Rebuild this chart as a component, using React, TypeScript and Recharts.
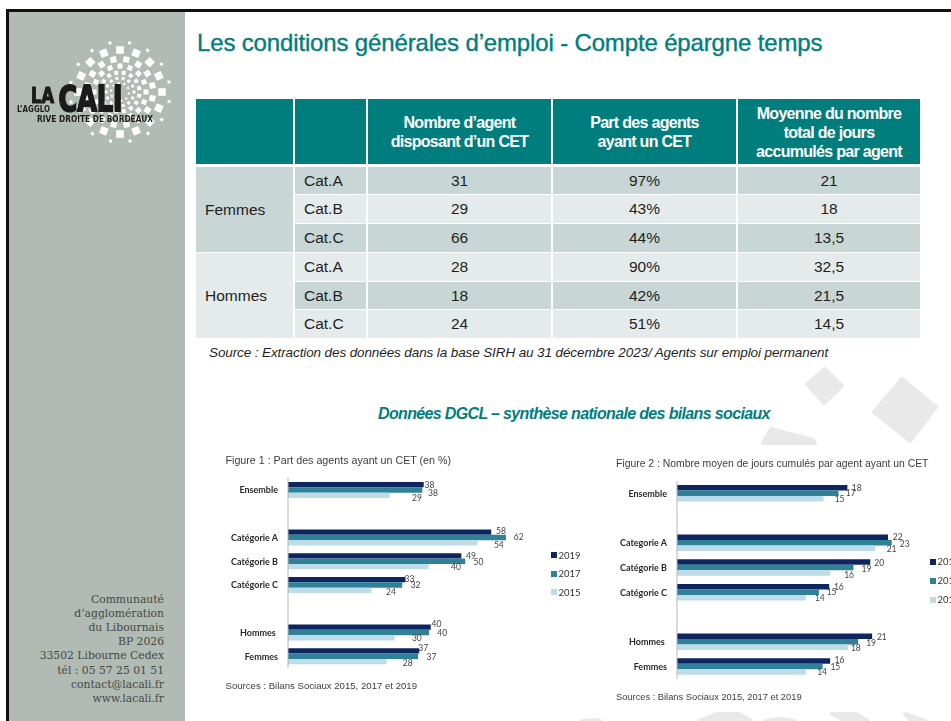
import React from 'react';
import { BarChart, Bar, XAxis, YAxis, Legend, LabelList } from 'recharts';

const TEAL = '#007D7D';
const SERIES_COLORS = { y2019: '#0E2660', y2017: '#2F8198', y2015: '#BEDCE7' };
const LEGEND_NAMES = { y2019: '2019', y2017: '2017', y2015: '2015' };

// Table
const tableHeaders = ['Nombre d’agent\ndisposant d’un CET', 'Part des agents\nayant un CET', 'Moyenne du nombre\ntotal de jours\naccumulés par agent'];
const tableGroups = ['Femmes', 'Hommes'];
const tableCats = ['Cat.A', 'Cat.B', 'Cat.C', 'Cat.A', 'Cat.B', 'Cat.C'];
const tableAgents = ['31', '29', '66', '28', '18', '24'];
const tableShare = ['97%', '43%', '44%', '90%', '42%', '51%'];
const tableDays = ['21', '18', '13,5', '32,5', '21,5', '14,5'];

const sidebarLines = ['Communauté', 'd’agglomération', 'du Libournais', 'BP 2026', '33502 Libourne Cedex', 'tél : 05 57 25 01 51', 'contact@lacali.fr', 'www.lacali.fr'];

const fig1Categories = ['Ensemble', ' ', 'Catégorie A', 'Catégorie B', 'Catégorie C', '  ', 'Hommes\u00a0', 'Femmes'];
const fig1Bars2019 = [38.6, null, 57.8, 49.3, 33.4, null, 40.6, 37.3];
const fig1Bars2017 = [38.2, null, 62, 50.4, 32.5, null, 40.1, 37];
const fig1Bars2015 = [28.9, null, 53.9, 40, 23.7, null, 30.3, 28];
const fig1Labels2019 = [38, 58, 49, 33, 40, 37];
const fig1Labels2017 = [38, 62, 50, 32, 40, 37];
const fig1Labels2015 = [29, 54, 40, 24, 30, 28];

// Figure 2
const fig2Categories = ['Ensemble', ' ', 'Categorie A', 'Catégorie B', 'Catégorie C', '  ', 'Hommes\u00a0', 'Femmes'];
const fig2Bars2019 = [18.25, null, 22.6, 20.7, 16.3, null, 20.9, 16.4];
const fig2Bars2017 = [17.3, null, 23, 18.9, 15.2, null, 19.4, 15.6];
const fig2Bars2015 = [15.7, null, 21.2, 16.4, 13.8, null, 18.3, 13.8];
const fig2Labels2019 = [18, 22, 20, 16, 21, 16];
const fig2Labels2017 = [17, 23, 19, 15, 19, 15];
const fig2Labels2015 = [15, 21, 16, 14, 18, 14];

// the source's data labels were dragged by hand, so each one has its own nudge [dx, dy]
const fig1Nudges = {
  y2019: [[5.7, 0], [9.7, -0.7], [9.7, -0.3], [4, -1], [5.7, -3], [4, -2.7]],
  y2017: [[10.7, 2.7], [12.7, 0], [13.3, 0.3], [13.3, 0.3], [13.3, 0.3], [13.3, 0.3]],
  y2015: [[27.3, 2.7], [21.3, 2], [27.3, 0.7], [19.7, 1.3], [22.3, 0], [21.3, 1.7]],
};
const fig2Nudges = {
  y2019: [[9.3, 0], [9.7, 0], [9, 0.7], [9.7, 0], [9.7, 1], [9.3, -0.7]],
  y2017: [[12.3, 0], [13, 1], [13, 1], [12.7, 0], [13, 1], [12.7, 0]],
  y2015: [[16, 0], [16.7, 1], [19, 2], [14, 0.7], [8, 1], [16.3, 0]],
};

const fig1Data = fig1Categories.map((name, i) => ({
  name,
  y2019: fig1Bars2019[i],
  y2017: fig1Bars2017[i],
  y2015: fig1Bars2015[i],
}));
const fig2Data = fig2Categories.map((name, i) => ({
  name,
  y2019: fig2Bars2019[i],
  y2017: fig2Bars2017[i],
  y2015: fig2Bars2015[i],
}));

function Txt({ x, y, children, style }: any) {
  return (
    <div style={{ position: 'absolute', left: x, top: y, whiteSpace: 'pre', fontFamily: '"Liberation Sans", sans-serif', ...style }}>
      {children}
    </div>
  );
}

function Logo() {
  const rings = [
    { r: 50, n: 16, s: 3, a: 11 },
    { r: 42, n: 16, s: 7.5, a: 0 },
    { r: 33, n: 16, s: 6, a: 11 },
    { r: 26, n: 16, s: 5, a: 0 },
    { r: 19.5, n: 16, s: 4, a: 11 },
    { r: 14, n: 14, s: 3, a: 0 },
    { r: 9, n: 10, s: 2.2, a: 10 },
  ];
  const squares: React.ReactNode[] = [];
  rings.forEach((ring, k) => {
    for (let i = 0; i < ring.n; i++) {
      const t = ((ring.a + (i * 360) / ring.n) * Math.PI) / 180;
      const cx = 120 + ring.r * Math.cos(t);
      const cy = 92 + ring.r * Math.sin(t);
      squares.push(
        <rect key={`${k}-${i}`} x={cx - ring.s / 2} y={cy - ring.s / 2} width={ring.s} height={ring.s} fill="#fff" transform={`rotate(${(t * 180) / Math.PI} ${cx} ${cy})`} />
      );
    }
  });
  return (
    <svg width={185} height={160} style={{ position: 'absolute', left: 0, top: 0, filter: 'blur(0.4px)' }}>
      {squares}
      <g fill="#1b1b1b" fontFamily='"DejaVu Sans", sans-serif' fontWeight="bold">
        <text x={31} y={103} fontSize={22} textLength={23} lengthAdjust="spacingAndGlyphs" stroke="#1b1b1b" strokeWidth={1.2}>LA</text>
        <text x={58.5} y={110.5} fontSize={35} textLength={64} lengthAdjust="spacingAndGlyphs" stroke="#1b1b1b" strokeWidth={2}>CALI</text>
        <text x={17} y={112} fontSize={8.5} textLength={33} lengthAdjust="spacingAndGlyphs">L’AGGLO</text>
        <text x={37} y={122} fontSize={8.5} textLength={116} lengthAdjust="spacingAndGlyphs">RIVE DROITE DE BORDEAUX</text>
      </g>
    </svg>
  );
}

function Backdrop() {
  return (
    <svg width={951} height={721} style={{ position: 'absolute', left: 0, top: 0 }}>
      <g fill="#E8E9E8" stroke="#E8E9E8" strokeWidth={4} strokeLinejoin="round">
        <polygon points="825,369 842,386 824,403 807,384" />
        <polygon points="902,379 936,407 910,441 874,412" />
        <polygon points="763,443 771,429 813,440 815,443" />
        <polygon points="699,721 718,714 739,714 751,721" />
        <polygon points="832,714 856,714 868,721 846,721" />
        <polygon points="765,721 780,719 795,721" />
        <polygon points="582,721 598,720 600,721" />
        <polygon points="905,714 920,719 925,721 912,721" />
      </g>
    </svg>
  );
}

function makeLabel(labels: number[], nudges: number[][]) {
  // LabelList skips the empty slots, so index runs over the six real categories
  return (props: any) => {
    const { x, y, width, height, index } = props;
    const text = labels[index];
    const nudge = nudges[index];
    if (text == null || nudge == null) return null;
    return (
      <text
        x={Number(x) + Number(width) + nudge[0]}
        y={Number(y) + Number(height) / 2 + nudge[1]}
        textAnchor="middle"
        dominantBaseline="central"
        fontFamily="Lato, sans-serif"
        fontSize={8.5}
        fill="#444"
      >
        {text}
      </text>
    );
  };
}

function CategoryTick({ x, y, payload }: any) {
  return (
    <text x={x} y={y} textAnchor="end" dominantBaseline="central" fontFamily="Lato, sans-serif" fontSize={9} fontWeight={700} fill="#2a2a2a">
      {payload.value}
    </text>
  );
}

function FigureLegend({ payload, gap }: any) {
  return (
    <div>
      {(payload || []).map((entry: any) => (
        <div key={entry.value} style={{ display: 'flex', alignItems: 'center', height: gap, fontFamily: 'Lato, sans-serif', fontSize: 9.5, color: '#333', whiteSpace: 'nowrap' }}>
          <span style={{ display: 'inline-block', width: 6, height: 6, background: entry.color, marginRight: 1.5 }} />
          {entry.value}
        </div>
      ))}
    </div>
  );
}

function Figure({ data, left, top, plotWidth, height, domainMax, barSize, legendTop, legendGap, labels, nudges }: any) {
  const yAxisWidth = 70;
  const legendWidth = 40;
  return (
    <div style={{ position: 'absolute', left, top, filter: 'blur(0.35px)' }}>
      <BarChart
        width={yAxisWidth + plotWidth + legendWidth}
        height={height}
        data={data}
        layout="vertical"
        margin={{ top: 0, right: 0, bottom: 0, left: 0 }}
        barGap={0}
        barCategoryGap={0}
      >
        <XAxis type="number" hide domain={[0, domainMax]} />
        <YAxis
          type="category"
          dataKey="name"
          width={yAxisWidth}
          interval={0}
          tickLine={false}
          tickSize={0}
          tickMargin={10}
          axisLine={{ stroke: '#b5b5b5', strokeWidth: 1 }}
          tick={CategoryTick}
        />
        <Legend
          layout="vertical"
          align="right"
          verticalAlign="top"
          width={legendWidth}
          itemSorter={null}
          wrapperStyle={{ top: legendTop }}
          content={(p: any) => <FigureLegend payload={p.payload} gap={legendGap} />}
        />
        {(['y2019', 'y2017', 'y2015'] as const).map((key) => (
          <Bar key={key} dataKey={key} name={LEGEND_NAMES[key]} fill={SERIES_COLORS[key]} barSize={barSize} isAnimationActive={false}>
            <LabelList dataKey={key} content={makeLabel(labels[key], nudges[key])} />
          </Bar>
        ))}
      </BarChart>
    </div>
  );
}

function DataTable() {
  const cols = [
    { x: 196, w: 97 },
    { x: 295, w: 71 },
    { x: 368, w: 183 },
    { x: 553, w: 183 },
    { x: 738, w: 182 },
  ];
  const rowTops = [167, 195, 224, 253, 282, 310, 339];
  const DARK = '#C8D6D5';
  const LIGHT = '#E5EBEA';
  const cell = (key: string, x: number, y: number, w: number, h: number, bg: string, text: React.ReactNode, align = 'center', pad = 0, extra = {}) => (
    <div key={key} style={{ position: 'absolute', left: x, top: y, width: w - pad, height: h, paddingLeft: pad, background: bg, display: 'flex', alignItems: 'center', justifyContent: align, fontFamily: '"Liberation Sans", sans-serif', fontSize: 15.5, color: '#1f1f1f', whiteSpace: 'pre', textAlign: 'center', ...extra }}>
      {text}
    </div>
  );
  const headerStyle = { color: '#fff', fontWeight: 700, letterSpacing: -0.7, lineHeight: '19px', fontSize: 16, paddingTop: 1, height: 64 };
  const out: React.ReactNode[] = [];
  cols.forEach((c, i) => {
    const label = i >= 2 ? tableHeaders[i - 2] : '';
    out.push(cell(`h${i}`, c.x, 99, c.w, 65, TEAL, label, 'center', 0, headerStyle));
  });
  tableGroups.forEach((g, i) => {
    const y = rowTops[i * 3];
    const h = rowTops[i * 3 + 3] - y - 1;
    out.push(cell(`g${i}`, cols[0].x, y, cols[0].w, h, i === 0 ? DARK : LIGHT, g, 'flex-start', 9));
  });
  tableCats.forEach((cat, r) => {
    const y = rowTops[r];
    const h = rowTops[r + 1] - y - 1;
    const bg = r % 2 === 0 ? DARK : LIGHT;
    out.push(cell(`c${r}`, cols[1].x, y, cols[1].w, h, bg, cat, 'flex-start', 9));
    out.push(cell(`a${r}`, cols[2].x, y, cols[2].w, h, bg, tableAgents[r]));
    out.push(cell(`s${r}`, cols[3].x, y, cols[3].w, h, bg, tableShare[r]));
    out.push(cell(`d${r}`, cols[4].x, y, cols[4].w, h, bg, tableDays[r]));
  });
  return <>{out}</>;
}

export default function App() {
  return (
    <div style={{ position: 'absolute', left: 0, top: 0, width: 951, height: 721, overflow: 'hidden', background: '#fff' }}>
      <Backdrop />
      <div style={{ position: 'absolute', left: 6, top: 9, width: 945, height: 2.5, background: '#111' }} />
      <div style={{ position: 'absolute', left: 6, top: 9, width: 2.5, height: 712, background: '#111' }} />
      <div style={{ position: 'absolute', left: 8.5, top: 11.5, width: 176.5, height: 710, background: '#B1BAB3' }} />
      <Logo />
      {sidebarLines.map((line, i) => (
        <Txt key={line} x={0} y={593 + i * 14.1} style={{ width: 164, textAlign: 'right', fontFamily: '"DejaVu Serif", serif', fontSize: 10.8, lineHeight: '14px', color: '#454a47', letterSpacing: -0.02 }}>
          {line}
        </Txt>
      ))}
      <Txt x={197} y={28} style={{ fontSize: 24, lineHeight: '30px', color: TEAL, letterSpacing: -0.15, WebkitTextStroke: '0.35px #007D7D' }}>
        Les conditions générales d’emploi - Compte épargne temps
      </Txt>
      <DataTable />
      <Txt x={209} y={345} style={{ fontSize: 13.5, lineHeight: '16px', fontStyle: 'italic', color: '#1f1f1f', letterSpacing: -0.11 }}>
        Source : Extraction des données dans la base SIRH au 31 décembre 2023/ Agents sur emploi permanent
      </Txt>
      <Txt x={378} y={405} style={{ fontSize: 16, lineHeight: '18px', fontStyle: 'italic', fontWeight: 700, color: TEAL, letterSpacing: -0.65 }}>
        Données DGCL – synthèse nationale des bilans sociaux
      </Txt>

      <Txt x={225.5} y={453} style={{ fontSize: 10.7, lineHeight: '14px', color: '#3d3d3d', filter: 'blur(0.3px)' }}>
        Figure 1 : Part des agents ayant un CET (en %)
      </Txt>
      <Figure
        data={fig1Data}
        left={218}
        top={478}
        plotWidth={263}
        height={190}
        domainMax={74.8}
        barSize={5.33}
        legendTop={68}
        legendGap={18.5}
        labels={{ y2019: fig1Labels2019, y2017: fig1Labels2017, y2015: fig1Labels2015 }}
        nudges={fig1Nudges}
      />
      <Txt x={225.5} y={679} style={{ fontSize: 9.6, lineHeight: '14px', color: '#3d3d3d', filter: 'blur(0.3px)' }}>
        Sources : Bilans Sociaux 2015, 2017 et 2019
      </Txt>

      <Txt x={616} y={457} style={{ fontSize: 10.4, lineHeight: '14px', color: '#3d3d3d', filter: 'blur(0.3px)' }}>
        Figure 2 : Nombre moyen de jours cumulés par agent ayant un CET
      </Txt>
      <Figure
        data={fig2Data}
        left={607}
        top={481}
        plotWidth={253}
        height={198}
        domainMax={27.1}
        barSize={5.5}
        legendTop={71}
        legendGap={19}
        labels={{ y2019: fig2Labels2019, y2017: fig2Labels2017, y2015: fig2Labels2015 }}
        nudges={fig2Nudges}
      />
      <Txt x={616} y={690} style={{ fontSize: 9.3, lineHeight: '14px', color: '#3d3d3d', filter: 'blur(0.3px)' }}>
        Sources : Bilans Sociaux 2015, 2017 et 2019
      </Txt>
    </div>
  );
}
